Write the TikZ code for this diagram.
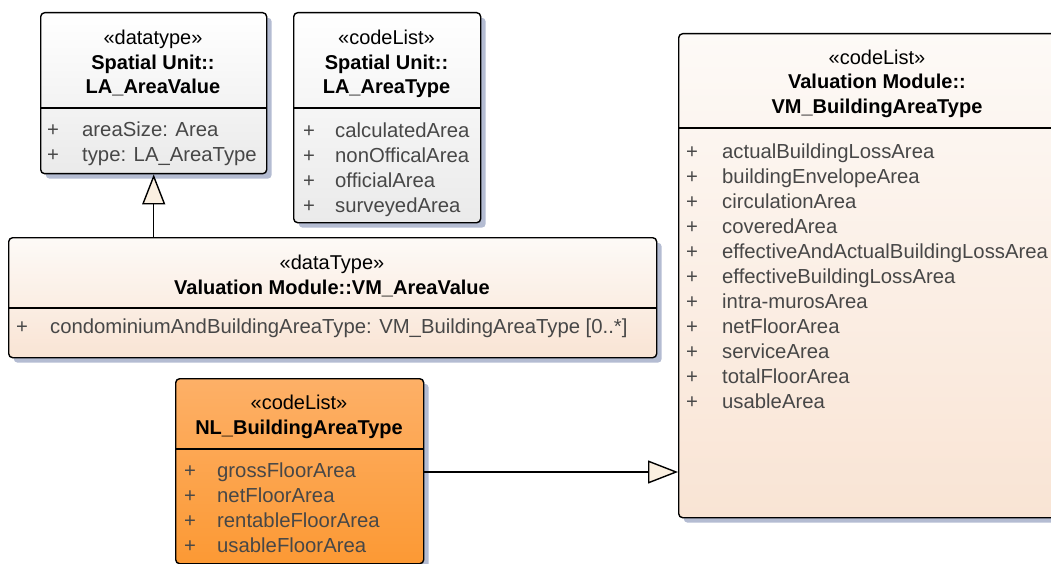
\documentclass[tikz,border=0pt]{standalone}
\usepackage{fontspec}
\setmainfont{Liberation Sans}
\usetikzlibrary{arrows.meta,shadows}

\definecolor{shadowblue}{HTML}{B4BCD2}
\definecolor{graybot}{HTML}{EAEAEA}
\definecolor{peachtop}{HTML}{FDFAF7}
\definecolor{peachbot}{HTML}{F9E4D4}
\definecolor{orangetop}{HTML}{FDB067}
\definecolor{orangebot}{HTML}{FC9934}
\definecolor{attrgray}{HTML}{474747}
\definecolor{tipfill}{HTML}{FBF0E1}

\tikzset{
  umlbox/.style={draw=black, line width=1.4pt, rounded corners=4pt, anchor=north west,
    inner sep=0pt, drop shadow={shadow xshift=5pt, shadow yshift=-5pt, fill=shadowblue, opacity=1}},
  grayclass/.style={umlbox, top color=white, bottom color=graybot},
  peachclass/.style={umlbox, top color=peachtop, bottom color=peachbot},
  orangeclass/.style={umlbox, top color=orangetop, bottom color=orangebot},
  stereo/.style={anchor=base, inner sep=0pt, font=\fontsize{20pt}{25pt}\selectfont},
  classname/.style={anchor=base, inner sep=0pt, align=center,
    font=\fontsize{20pt}{24.5pt}\selectfont\bfseries},
  attrs/.style={anchor=base west, inner sep=0pt, align=left, text=attrgray,
    font=\fontsize{20.3pt}{25pt}\selectfont},
  divider/.style={line width=1.4pt},
  inherit/.style={line width=1.4pt, -{Triangle[length=30pt, width=23pt, fill=tipfill]}},
}

\begin{document}
\begin{tikzpicture}[x=1pt, y=-1pt]
  \useasboundingbox (0,0) rectangle (1051,564);

  % boxes
  \node[grayclass, minimum width=226pt, minimum height=161pt] (lavalue) at (40,12) {};
  \node[grayclass, minimum width=187pt, minimum height=210pt] (latype) at (293,12) {};
  \node[peachclass, minimum width=400pt, minimum height=484pt] (vmtype) at (678,33) {};
  \node[peachclass, minimum width=648pt, minimum height=120pt] (vmvalue) at (8,237) {};
  \node[orangeclass, minimum width=248pt, minimum height=185pt] (nltype) at (175,378) {};

  % multi-line texts sit on the baseline of their last line
  % Spatial Unit::LA_AreaValue
  \node[stereo] (lavalue-st) at (153,45) {«datatype»};
  \node[classname] (lavalue-name) at (153,94) {Spatial Unit::\\LA\_AreaValue};
  \draw[divider] (lavalue.west |- 0,108) -- (lavalue.east |- 0,108);
  \node[attrs] (lavalue-plus) at (47,162) {+\\+};
  \node[attrs] (lavalue-attr) at (82,162) {areaSize: Area\\type: LA\_AreaType};

  % Spatial Unit::LA_AreaType
  \node[stereo] (latype-st) at (386.5,45) {«codeList»};
  \node[classname] (latype-name) at (386.5,94) {Spatial Unit::\\LA\_AreaType};
  \draw[divider] (latype.west |- 0,108) -- (latype.east |- 0,108);
  \node[attrs] (latype-plus) at (303,212) {+\\+\\+\\+};
  \node[attrs] (latype-attr) at (335,212) {calculatedArea\\nonOfficalArea\\officialArea\\surveyedArea};

  % Valuation Module::VM_BuildingAreaType
  \node[stereo] (vmtype-st) at (877,65) {«codeList»};
  \node[classname] (vmtype-name) at (877,113.5) {Valuation Module::\\VM\_BuildingAreaType};
  \draw[divider] (vmtype.west |- 0,128) -- (vmtype.east |- 0,128);
  \node[attrs] (vmtype-plus) at (686,408) {+\\+\\+\\+\\+\\+\\+\\+\\+\\+\\+};
  \node[attrs] (vmtype-attr) at (722,408) {actualBuildingLossArea\\buildingEnvelopeArea\\circulationArea\\coveredArea\\effectiveAndActualBuildingLossArea\\effectiveBuildingLossArea\\intra-murosArea\\netFloorArea\\serviceArea\\totalFloorArea\\usableArea};

  % Valuation Module::VM_AreaValue
  \node[stereo] (vmvalue-st) at (332,269) {«dataType»};
  \node[classname] (vmvalue-name) at (332,294) {Valuation Module::VM\_AreaValue};
  \draw[divider] (vmvalue.west |- 0,308) -- (vmvalue.east |- 0,308);
  \node[attrs] (vmvalue-plus) at (16,333) {+};
  \node[attrs] (vmvalue-attr) at (50,333) {condominiumAndBuildingAreaType: VM\_BuildingAreaType [0..*]};

  % NL_BuildingAreaType
  \node[stereo] (nltype-st) at (299,409) {«codeList»};
  \node[classname] (nltype-name) at (299,434) {NL\_BuildingAreaType};
  \draw[divider] (nltype.west |- 0,449) -- (nltype.east |- 0,449);
  \node[attrs] (nltype-plus) at (184,552) {+\\+\\+\\+};
  \node[attrs] (nltype-attr) at (217,552) {grossFloorArea\\netFloorArea\\rentableFloorArea\\usableFloorArea};

  % generalisations
  \draw[inherit] (lavalue.south |- vmvalue.north) -- (lavalue.south);
  \draw[inherit] (nltype.east |- 0,472) -- (vmtype.west |- 0,472);
\end{tikzpicture}
\end{document}
